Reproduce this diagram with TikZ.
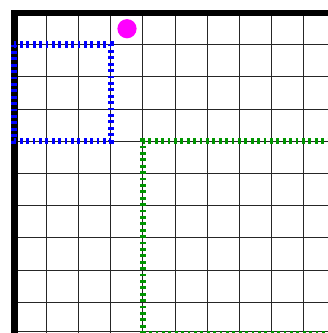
\documentclass[tikz,border=0pt]{standalone}
\definecolor{dotblue}{RGB}{0,0,255}
\definecolor{dotgreen}{RGB}{0,150,0}
\definecolor{dotmagenta}{RGB}{255,0,255}
\begin{document}
\begin{tikzpicture}[x=1pt,y=-1pt,
  gridline/.style={black!85,line width=0.8pt},
  axisline/.style={black,line width=6.5pt},
  dotted box/.style={line width=6.2pt,dash pattern=on 2.8pt off 3.6pt},
]
\useasboundingbox (0,0) rectangle (328,333);
\clip (0,0) rectangle (328,333);
% grid
\foreach \i in {1,...,9} {
  \draw[gridline] (14+32.2*\i,12.3) -- (14+32.2*\i,333);
  \draw[gridline] (14,12.3+32.2*\i) -- (328,12.3+32.2*\i);
}
\draw[gridline] (14,331.8) -- (328,331.8);
% thick axes
\draw[axisline] (14.3,333) -- (14.3,13) -- (328,13);
% blue box
\draw[dotted box,dotblue] (14,44.5) rectangle (110.6,141.1);
% green box
\draw[dotted box,dotgreen] (142.8,334) -- (142.8,141.1) -- (340,141.1);
\draw[dotted box,dotgreen] (142.8,334) -- (340,334);
% magenta dot
\fill[dotmagenta] (127,28.7) circle (9.6);
\end{tikzpicture}
\end{document}
